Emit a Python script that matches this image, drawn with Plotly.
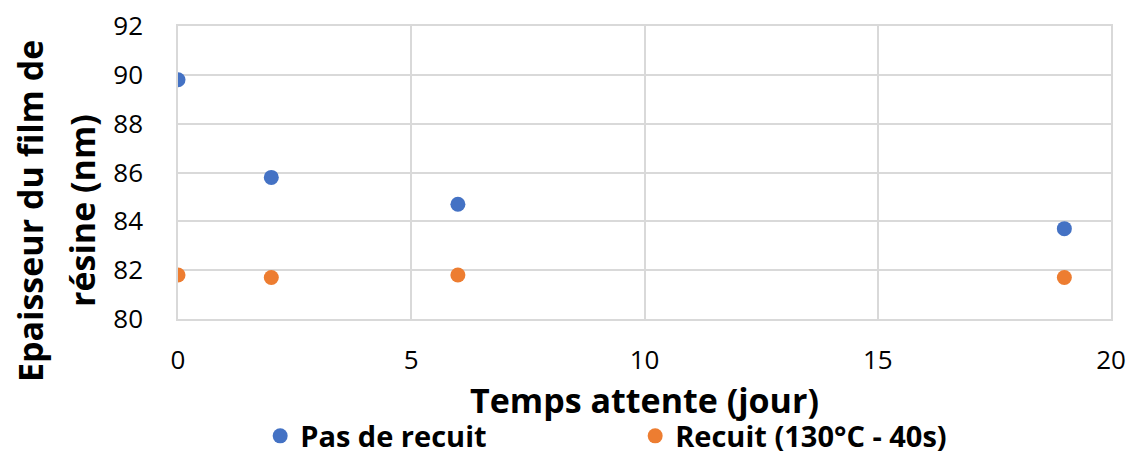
import plotly.graph_objects as go

jours = [0, 2, 6, 19]
pas_de_recuit = [89.8, 85.8, 84.7, 83.7]
recuit = [81.8, 81.7, 81.8, 81.7]
x_ticks = [0, 5, 10, 15, 20]
y_ticks = [80, 82, 84, 86, 88, 90, 92]
y_title_lines = ["Epaisseur du film de", "résine (nm)"]

FONT = "Open Sans"
L, R, T, B = 178, 20, 26, 140
W, H = 1131, 459
PW, PH = W - L - R, H - T - B

fig = go.Figure()
fig.add_trace(go.Scatter(x=jours, y=pas_de_recuit, mode="markers", name="Pas de recuit",
                         marker=dict(color="#4472C4", size=15)))
fig.add_trace(go.Scatter(x=jours, y=recuit, mode="markers", name="Recuit (130°C - 40s)",
                         marker=dict(color="#ED7D31", size=15)))

for txt, xc in zip(y_title_lines, [30, 82]):
    fig.add_annotation(text=txt, textangle=-90,
                       xref="paper", yref="paper", x=(xc - L) / PW, y=(H - B - 211) / PH,
                       xanchor="center", yanchor="middle", showarrow=False,
                       font=dict(size=34, family=FONT, weight="bold", color="black"))

fig.update_layout(
    width=W, height=H,
    margin=dict(l=L, r=R, t=T, b=B, autoexpand=False),
    paper_bgcolor="white", plot_bgcolor="white",
    font=dict(family=FONT, color="black"),
    showlegend=True,
    legend=dict(orientation="h", x=0.49, xanchor="center", y=(H - B - 436) / PH, yanchor="middle",
                font=dict(size=29, family=FONT, weight="bold"),
                entrywidth=330, itemwidth=30, tracegroupgap=0),
    xaxis=dict(range=[0, 20], tickvals=x_ticks, tickfont=dict(size=26),
               showgrid=True, gridcolor="#d9d9d9", gridwidth=1.5,
               showline=True, linecolor="#d9d9d9", linewidth=1.5, mirror=True,
               zeroline=False, ticks="", ticklabelstandoff=17,
               title=dict(text="Temps attente (jour)", font=dict(size=34, weight="bold"), standoff=0)),
    yaxis=dict(range=[80, 92], tickvals=y_ticks, tickfont=dict(size=26),
               showgrid=True, gridcolor="#d9d9d9", gridwidth=1.5,
               showline=True, linecolor="#d9d9d9", linewidth=1.5, mirror=True,
               zeroline=False, ticks="", ticklabelstandoff=28),
)
fig.write_html("out.html", config={"displayModeBar": False},
               post_script="document.body.style.margin='0px';document.body.style.overflow='hidden';")
